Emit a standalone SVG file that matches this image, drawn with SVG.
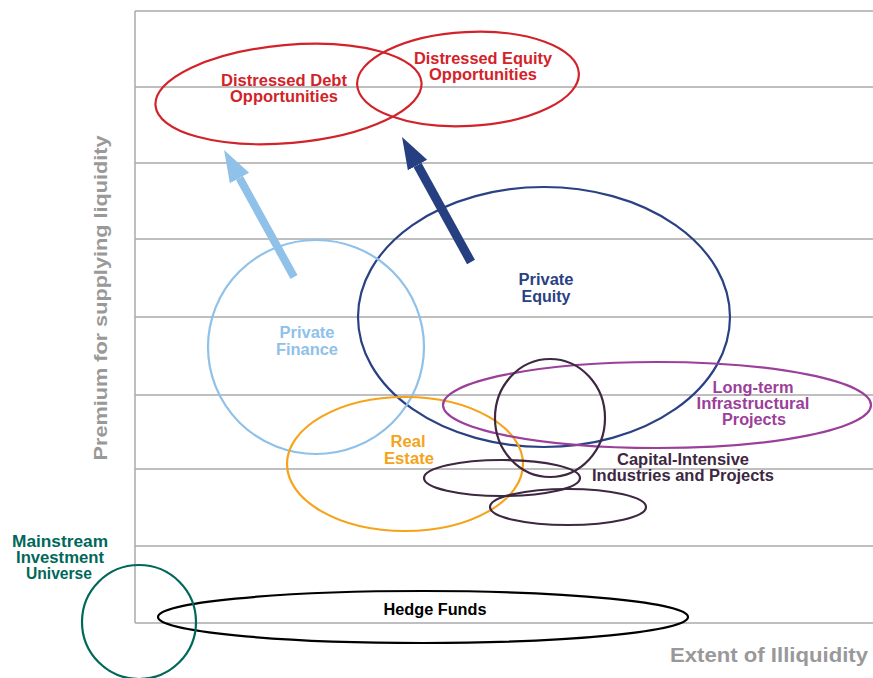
<svg xmlns="http://www.w3.org/2000/svg" width="873" height="678" viewBox="0 0 873 678">
<style>
.grid{stroke:#aaaaaa;stroke-width:1.5;fill:none}
.e{fill:none;stroke-width:2.2}
.t{font-family:"Liberation Sans",Arial,sans-serif;font-weight:bold;font-size:16px;text-anchor:middle}
.ax{font-family:"Liberation Sans",Arial,sans-serif;font-weight:bold;fill:#999999}
.red{stroke:#d2232a}.redt{fill:#d2232a}
</style>
<defs>
<marker id="hl" markerUnits="userSpaceOnUse" viewBox="0 -12 32 24" markerWidth="32" markerHeight="24" refX="0" refY="0" orient="auto"><path d="M0,-11 L32,0 L0,11 z" fill="#8fc1e9"/></marker>
<marker id="hd" markerUnits="userSpaceOnUse" viewBox="0 -12 32 24" markerWidth="32" markerHeight="24" refX="0" refY="0" orient="auto"><path d="M0,-11 L32,0 L0,11 z" fill="#263f80"/></marker>
</defs>
<rect width="873" height="678" fill="#ffffff"/>
<g id="grid">
<path class="grid" d="M135,11 H873 M135,87 H873 M135,163 H873 M135,239 H873 M135,317 H873 M135,395 H873 M135,469 H873 M135,546 H873 M135,623 H873 M135,11 V623"/>
</g>
<g id="axis-labels">
<text class="ax" font-size="19" transform="translate(107,298) rotate(-90)" text-anchor="middle" textLength="325" lengthAdjust="spacingAndGlyphs">Premium for supplying liquidity</text>
<text class="ax" font-size="21" x="670" y="662" textLength="198" lengthAdjust="spacingAndGlyphs">Extent of Illiquidity</text>
</g>
<g id="hedge-funds">
<ellipse class="e" cx="423" cy="617" rx="265" ry="26" stroke="#000000"/>
<text class="t" x="435" y="615" fill="#000000" textLength="103" lengthAdjust="spacingAndGlyphs">Hedge Funds</text>
</g>
<g id="mainstream">
<ellipse class="e" cx="139" cy="622" rx="57" ry="57" stroke="#00685a"/>
<text class="t" fill="#00685a" font-size="15"><tspan x="60" y="547" textLength="96" lengthAdjust="spacingAndGlyphs">Mainstream</tspan><tspan x="60" y="563" textLength="88" lengthAdjust="spacingAndGlyphs">Investment</tspan><tspan x="59" y="579" textLength="66" lengthAdjust="spacingAndGlyphs">Universe</tspan></text>
</g>
<g id="distressed-debt">
<ellipse class="e red" cx="288.5" cy="94" rx="133.5" ry="49" transform="rotate(-5 288.5 94)"/>
<text class="t redt"><tspan x="284" y="86" textLength="126" lengthAdjust="spacingAndGlyphs">Distressed Debt</tspan><tspan x="284" y="102" textLength="108" lengthAdjust="spacingAndGlyphs">Opportunities</tspan></text>
</g>
<g id="distressed-equity">
<ellipse class="e red" cx="468" cy="79" rx="111" ry="47" transform="rotate(-3 468 79)"/>
<text class="t redt"><tspan x="483" y="64" textLength="138" lengthAdjust="spacingAndGlyphs">Distressed Equity</tspan><tspan x="483" y="80" textLength="108" lengthAdjust="spacingAndGlyphs">Opportunities</tspan></text>
</g>
<g id="private-equity">
<ellipse class="e" cx="544" cy="317" rx="186" ry="130" stroke="#2a4183"/>
<text class="t" fill="#2a4183"><tspan x="546" y="285" textLength="55" lengthAdjust="spacingAndGlyphs">Private</tspan><tspan x="546" y="302" textLength="49" lengthAdjust="spacingAndGlyphs">Equity</tspan></text>
</g>
<g id="private-finance">
<ellipse class="e" cx="316" cy="347" rx="108" ry="107" stroke="#8fc1e9"/>
<text class="t" fill="#8fc1e9"><tspan x="307" y="338" textLength="55" lengthAdjust="spacingAndGlyphs">Private</tspan><tspan x="307" y="355" textLength="62" lengthAdjust="spacingAndGlyphs">Finance</tspan></text>
</g>
<g id="real-estate">
<ellipse class="e" cx="405" cy="464" rx="118" ry="67" stroke="#f5a31a"/>
<text class="t" fill="#f5a31a"><tspan x="408" y="447" textLength="35" lengthAdjust="spacingAndGlyphs">Real</tspan><tspan x="409" y="464" textLength="50" lengthAdjust="spacingAndGlyphs">Estate</tspan></text>
</g>
<g id="long-term-infrastructure">
<ellipse class="e" cx="657" cy="405" rx="214" ry="43" stroke="#9b3f9a"/>
<text class="t" fill="#9b3f9a"><tspan x="753" y="393" textLength="81" lengthAdjust="spacingAndGlyphs">Long-term</tspan><tspan x="753" y="409" textLength="113" lengthAdjust="spacingAndGlyphs">Infrastructural</tspan><tspan x="754" y="425" textLength="64" lengthAdjust="spacingAndGlyphs">Projects</tspan></text>
</g>
<g id="capital-intensive">
<ellipse class="e" cx="550" cy="418" rx="55" ry="59" stroke="#3e2741"/>
<ellipse class="e" cx="502" cy="478" rx="78" ry="18" stroke="#3e2741"/>
<ellipse class="e" cx="568" cy="507" rx="78" ry="18" stroke="#3e2741"/>
<text class="t" fill="#3e2741"><tspan x="683" y="465" textLength="132" lengthAdjust="spacingAndGlyphs">Capital-Intensive</tspan><tspan x="683" y="481" textLength="182" lengthAdjust="spacingAndGlyphs">Industries and Projects</tspan></text>
</g>
<g id="connectors">
<line x1="294" y1="277" x2="239.5" y2="178" stroke="#8fc1e9" stroke-width="8" marker-end="url(#hl)"/>
<line x1="471" y1="262" x2="417.5" y2="165" stroke="#263f80" stroke-width="9" marker-end="url(#hd)"/>
</g>
</svg>
